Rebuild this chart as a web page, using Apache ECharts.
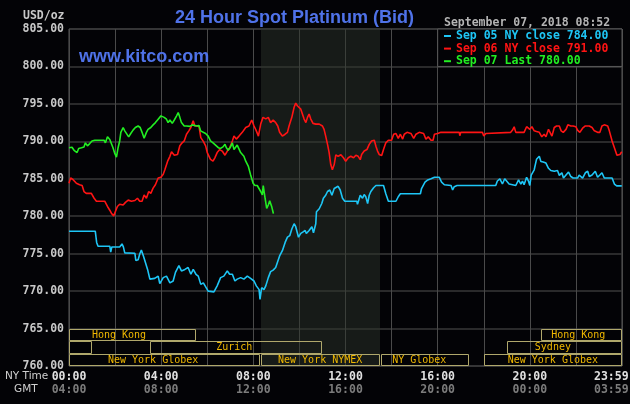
<!DOCTYPE html>
<html>
<head>
<meta charset="utf-8">
<script src="https://cdn.jsdelivr.net/npm/echarts@6/dist/echarts.min.js"></script>
<style>html,body{margin:0;padding:0;background:#030306;}#c{width:630px;height:404px;}</style>
</head>
<body>
<div id="c"></div>
<script>
// ---- data ----
const seriesNames = ['Sep 05 NY close 784.00', 'Sep 06 NY close 791.00', 'Sep 07 Last 780.00'];
const seriesColors = ['#1ec6f6', '#ff1414', '#22ee22'];

const sep05 = [[0,778.0],[1.14,778.0],[1.2,776.5],[1.26,776.0],[1.77,776.0],[1.81,775.2],[1.86,775.9],[2.2,775.9],[2.30,776.3],[2.36,775.9],[2.42,775.1],[2.86,775.05],[2.90,774.1],[3.0,774.2],[3.07,774.95],[3.14,775.5],[3.23,774.7],[3.41,772.9],[3.51,771.6],[3.58,771.8],[3.72,771.7],[3.87,772.0],[3.94,771.0],[4.09,771.8],[4.23,772.0],[4.38,771.1],[4.52,771.35],[4.62,772.5],[4.77,773.4],[4.88,772.7],[5.03,772.9],[5.17,773.15],[5.29,772.25],[5.39,772.9],[5.51,772.25],[5.61,772.0],[5.72,770.9],[5.83,771.1],[5.90,770.9],[6.04,770.0],[6.07,769.9],[6.29,769.9],[6.43,770.7],[6.58,771.8],[6.72,772.0],[6.87,772.7],[6.97,772.25],[7.09,772.25],[7.20,771.35],[7.30,771.6],[7.45,771.8],[7.59,771.6],[7.74,772.0],[7.88,771.7],[8.03,771.35],[8.13,770.7],[8.25,770.2],[8.29,768.9],[8.36,770.45],[8.46,770.2],[8.54,770.7],[8.65,771.8],[8.75,772.6],[8.86,772.8],[8.97,773.15],[9.04,773.8],[9.14,774.7],[9.26,775.4],[9.38,776.5],[9.48,777.2],[9.58,777.4],[9.67,778.3],[9.77,779.0],[9.84,778.6],[9.96,777.2],[10.06,777.7],[10.16,777.9],[10.25,778.1],[10.30,777.7],[10.42,778.1],[10.54,778.6],[10.61,777.8],[10.71,779.0],[10.74,780.6],[10.86,781.0],[10.97,781.7],[11.04,782.4],[11.14,782.8],[11.22,783.3],[11.32,783.5],[11.41,782.8],[11.51,783.7],[11.58,783.5],[11.68,784.0],[11.77,783.5],[11.87,782.4],[11.97,782.0],[12.49,782.0],[12.52,781.6],[12.64,782.8],[12.74,782.4],[12.81,782.9],[12.88,782.6],[12.96,781.7],[13.03,782.8],[13.10,783.3],[13.22,783.8],[13.32,784.1],[13.65,784.1],[13.75,783.0],[13.86,782.0],[14.19,782.0],[14.29,782.6],[14.38,783.0],[15.25,783.0],[15.30,783.7],[15.45,784.55],[15.57,784.85],[15.71,785.0],[15.86,785.2],[16.07,785.2],[16.17,784.55],[16.29,784.2],[16.58,784.1],[16.65,783.5],[16.72,783.95],[16.84,784.1],[18.52,784.1],[18.59,784.7],[18.70,785.0],[18.81,784.3],[18.91,785.0],[18.99,785.0],[19.10,784.3],[19.17,784.1],[19.39,784.1],[19.51,784.85],[19.61,784.3],[19.68,784.7],[19.75,784.2],[19.86,785.2],[19.94,784.7],[20.0,784.1],[20.06,785.5],[20.19,786.2],[20.29,787.6],[20.41,788.0],[20.48,787.3],[20.58,787.25],[20.70,787.1],[20.81,786.4],[20.91,786.1],[21.06,786.0],[21.20,786.1],[21.28,785.45],[21.39,785.8],[21.46,785.1],[21.57,785.5],[21.68,785.9],[21.78,785.3],[21.88,785.1],[22.07,785.1],[22.14,785.5],[22.29,785.1],[22.41,785.8],[22.51,786.0],[22.58,785.3],[22.70,785.5],[22.84,786.0],[22.94,785.2],[23.04,785.5],[23.13,785.8],[23.23,785.1],[23.57,785.1],[23.67,784.3],[23.77,784.05],[23.99,784.05]];

const sep06 = [[0,784.4],[0.07,785.1],[0.17,784.9],[0.25,785.1],[0.32,784.4],[0.46,784.2],[0.57,784.1],[0.65,783.3],[0.75,783.05],[0.97,783.05],[1.09,782.4],[1.19,782.0],[1.55,782.0],[1.67,781.3],[1.77,780.8],[1.84,780.4],[1.94,780.05],[2.01,780.6],[2.10,781.3],[2.20,781.6],[2.28,781.85],[2.35,781.5],[2.45,781.85],[2.57,782.15],[2.71,782.0],[2.86,782.1],[2.97,782.4],[3.07,782.0],[3.17,782.0],[3.26,782.85],[3.36,782.4],[3.46,783.3],[3.55,783.05],[3.65,783.75],[3.75,784.2],[3.87,785.1],[3.99,785.2],[4.09,785.6],[4.16,786.2],[4.28,787.35],[4.38,788.0],[4.45,788.6],[4.57,788.15],[4.71,788.25],[4.81,789.4],[4.91,789.8],[5.0,790.05],[5.10,790.95],[5.20,791.4],[5.29,791.85],[5.39,792.75],[5.46,792.05],[5.54,791.85],[5.64,792.05],[5.72,790.5],[5.83,790.0],[5.93,789.4],[6.0,788.5],[6.14,787.6],[6.25,787.35],[6.33,787.8],[6.43,788.5],[6.54,788.9],[6.65,788.7],[6.77,788.15],[6.87,788.7],[6.97,789.1],[7.09,790.05],[7.16,790.7],[7.26,790.3],[7.38,790.7],[7.52,791.2],[7.67,791.85],[7.81,792.05],[7.93,792.85],[8.03,792.05],[8.13,791.4],[8.22,790.7],[8.32,792.3],[8.42,793.2],[8.54,793.0],[8.65,793.2],[8.75,792.5],[8.86,792.85],[8.97,792.5],[9.06,792.05],[9.14,791.2],[9.26,790.7],[9.38,790.95],[9.48,791.2],[9.55,792.05],[9.67,793.2],[9.77,794.55],[9.84,795.1],[9.91,794.75],[9.99,795.0],[10.06,794.3],[10.13,793.65],[10.20,793.0],[10.28,792.5],[10.35,793.2],[10.42,793.65],[10.49,793.0],[10.59,792.4],[10.71,792.3],[10.86,792.3],[11.0,792.05],[11.07,791.6],[11.14,790.7],[11.22,789.6],[11.29,788.5],[11.36,786.9],[11.43,786.2],[11.51,786.9],[11.58,788.2],[11.68,788.0],[11.80,788.2],[11.91,787.8],[12.01,787.35],[12.12,787.8],[12.23,788.0],[12.35,787.8],[12.45,788.15],[12.55,788.0],[12.64,787.55],[12.70,788.25],[12.81,788.7],[12.93,788.9],[13.03,789.6],[13.13,790.05],[13.25,790.15],[13.32,789.35],[13.39,788.7],[13.46,788.25],[13.57,788.1],[13.65,788.9],[13.75,789.8],[13.86,790.15],[14.0,790.15],[14.09,790.95],[14.19,791.05],[14.29,790.4],[14.38,790.95],[14.48,790.3],[14.55,790.95],[14.67,791.2],[14.84,791.05],[14.96,790.4],[15.06,790.95],[15.20,791.2],[15.39,791.05],[15.49,790.3],[15.59,790.6],[15.71,790.15],[15.80,790.15],[15.86,790.95],[16.0,791.05],[16.14,791.2],[16.94,791.2],[16.96,790.75],[17.0,791.2],[17.94,791.2],[18.0,790.7],[18.09,791.05],[18.16,791.2],[19.17,791.2],[19.25,791.5],[19.32,791.95],[19.39,791.2],[19.75,791.2],[19.86,791.95],[19.94,792.05],[20.0,791.6],[20.09,791.95],[20.19,791.4],[20.29,791.3],[20.41,791.2],[20.52,790.6],[20.62,790.95],[20.70,790.6],[20.81,791.6],[20.87,791.4],[20.96,790.7],[21.06,791.85],[21.16,792.05],[21.28,792.05],[21.36,791.4],[21.45,791.2],[21.57,791.6],[21.65,792.2],[21.78,792.05],[21.88,792.05],[22.0,791.95],[22.07,791.5],[22.17,791.2],[22.29,791.75],[22.41,792.05],[22.58,792.05],[22.70,791.85],[22.80,791.4],[22.94,791.2],[23.04,791.2],[23.13,792.05],[23.23,792.2],[23.38,792.05],[23.45,791.4],[23.57,790.05],[23.67,789.15],[23.78,788.15],[23.86,788.35],[23.91,788.25],[23.99,788.6]];

const sep07 = [[0,789.15],[0.07,788.9],[0.13,789.2],[0.22,788.8],[0.28,789.05],[0.35,788.5],[0.42,789.05],[0.54,789.15],[0.65,789.25],[0.71,789.8],[0.80,789.4],[0.90,789.7],[1.0,790.05],[1.12,790.15],[1.52,790.15],[1.58,789.8],[1.67,790.6],[1.77,790.25],[1.84,790.05],[1.91,789.15],[1.99,788.35],[2.06,787.9],[2.13,789.15],[2.20,790.05],[2.25,791.2],[2.35,791.85],[2.42,791.4],[2.49,791.6],[2.59,790.6],[2.68,791.05],[2.78,791.5],[2.88,791.85],[3.0,792.05],[3.09,791.85],[3.17,791.2],[3.26,790.4],[3.36,791.2],[3.43,791.6],[3.55,791.85],[3.65,792.2],[3.75,792.5],[3.87,792.95],[3.99,793.4],[4.04,793.65],[4.13,793.2],[4.23,792.95],[4.30,792.5],[4.38,792.85],[4.48,792.4],[4.57,792.85],[4.67,793.4],[4.74,793.85],[4.81,793.2],[4.88,792.5],[5.0,792.05],[5.10,792.05],[5.25,792.0],[5.35,792.2],[5.43,792.4],[5.54,792.05],[5.64,792.1],[5.71,791.4],[5.78,791.2],[5.93,791.05],[6.04,790.7],[6.14,790.05],[6.25,789.8],[6.36,789.5],[6.48,789.15],[6.58,789.05],[6.68,789.25],[6.77,789.6],[6.83,789.15],[6.91,788.8],[7.01,789.25],[7.09,789.8],[7.16,788.9],[7.23,789.15],[7.30,789.5],[7.38,789.25],[7.45,788.5],[7.52,788.25],[7.59,788.0],[7.67,787.35],[7.78,786.7],[7.88,785.55],[7.99,784.4],[8.07,784.1],[8.17,784.1],[8.25,783.95],[8.32,783.3],[8.39,782.85],[8.43,784.1],[8.51,782.4],[8.58,781.05],[8.65,781.5],[8.71,782.05],[8.80,781.25],[8.86,780.5],[8.87,780.35]];

// axis ticks (hours, NY time) and their labels
const labelHours = [0, 4, 8, 12, 16, 20, 24];
const nyTickLabels = ['00:00', '04:00', '08:00', '12:00', '16:00', '20:00', '23:59'];
const gmtTickLabels = ['04:00', '08:00', '12:00', '16:00', '20:00', '00:00', '03:59'];

// NYMEX shaded session (hours)
const nymexSession = [8.33, 13.5];

// market sessions bar (hours), row 0 = top
const sessionNames = ['Hong Kong', 'Hong Kong', '', 'Zurich', 'Sydney', 'New York Globex', 'New York NYMEX', 'NY Globex', 'New York Globex'];
const sessionStart = [0, 20.5, 0, 3.5, 19.0, 0, 8.35, 13.55, 18.0];
const sessionEnd   = [5.5, 24, 1.0, 11.0, 24, 8.28, 13.48, 17.35, 24];
const sessionRow   = [0, 0, 1, 1, 1, 2, 2, 2, 2];
const sessionLabelAt = [2.17, 22.1, -1, 7.17, 21.0, 3.65, 10.9, 15.2, 21.0];

// ---- chart ----
const MONO = '"DejaVu Sans Mono", "Liberation Mono", monospace';
const chart = echarts.init(document.getElementById('c'), null, {renderer: 'canvas'});

const Y_MIN = 760, Y_MAX = 805;
const rowH = 5 / 3;

const sessionData = sessionStart.map((s, i) => [s, sessionEnd[i], 765 - sessionRow[i] * rowH, sessionLabelAt[i]]);

const option = {
  backgroundColor: '#030306',
  animation: false,
  title: [
    {text: '24 Hour Spot Platinum (Bid)', left: 175, top: 8, padding: 0,
     textStyle: {color: '#4f72e8', fontSize: 18, fontWeight: 'bold', fontFamily: '"Liberation Sans", Arial, sans-serif', lineHeight: 20}},
    {text: 'www.kitco.com', left: 79, top: 47, padding: 0,
     textStyle: {color: '#4f72e8', fontSize: 18, fontWeight: 'bold', fontFamily: '"Liberation Sans", Arial, sans-serif', lineHeight: 20}}
  ],
  grid: {left: 69, right: 8, top: 29, bottom: 38, show: true, borderColor: '#5a5a5a', borderWidth: 1,
         backgroundColor: 'transparent', containLabel: false, outerBoundsMode: 'none'},
  legend: {
    orient: 'vertical', left: 444, top: 30, padding: 0, itemGap: 0.6,
    icon: 'rect', itemWidth: 7, itemHeight: 2, selectedMode: false,
    textStyle: {fontFamily: MONO, fontSize: 11.5, fontWeight: 'bold', lineHeight: 12},
    data: seriesNames.map((n, i) => ({name: n, textStyle: {color: seriesColors[i]}}))
  },
  xAxis: {
    type: 'value', min: 0, max: 24, interval: 2,
    axisLine: {show: false}, axisTick: {show: false},
    splitLine: {show: true, lineStyle: {color: '#4a4a4a', width: 1}},
    axisLabel: {
      showMaxLabel: true, showMinLabel: true, margin: 4, hideOverlap: false,
      formatter: function (v) {
        const i = labelHours.indexOf(v);
        if (i < 0) return '';
        if (v === 24) return '{c|' + nyTickLabels[i] + '}\n{d|' + gmtTickLabels[i] + '}';
        return '{a|' + nyTickLabels[i] + '}\n{b|' + gmtTickLabels[i] + '}';
      },
      rich: {
        a: {fontFamily: MONO, fontSize: 11.5, fontWeight: 'bold', color: '#e0e0e0', lineHeight: 13.5},
        b: {fontFamily: MONO, fontSize: 11.5, fontWeight: 'bold', color: '#7c7c7c', lineHeight: 13.5},
        c: {fontFamily: MONO, fontSize: 11.5, fontWeight: 'bold', color: '#e0e0e0', lineHeight: 13.5, width: 56, align: 'left'},
        d: {fontFamily: MONO, fontSize: 11.5, fontWeight: 'bold', color: '#7c7c7c', lineHeight: 13.5, width: 56, align: 'left'}
      }
    }
  },
  yAxis: {
    type: 'value', min: Y_MIN, max: Y_MAX, interval: 5,
    axisLine: {show: false}, axisTick: {show: false},
    splitLine: {show: true, lineStyle: {color: '#383838', width: 1.5}},
    axisLabel: {
      margin: 5, color: '#c8c8c8', fontFamily: MONO, fontSize: 11.5, fontWeight: 'bold',
      formatter: v => v.toFixed(2)
    }
  },
  graphic: [
    {type: 'text', left: 23, top: 10, style: {text: 'USD/oz', fill: '#c8c8c8', font: 'bold 11.5px ' + MONO}},
    {type: 'text', left: 444, top: 17, style: {text: 'September 07, 2018 08:52', fill: '#b4b4b4', font: 'bold 11.5px ' + MONO}},
    {type: 'text', left: 5, top: 371, style: {text: 'NY Time', fill: '#d0d0d0', font: '10.5px "DejaVu Sans", sans-serif'}},
    {type: 'text', left: 14, top: 384, style: {text: 'GMT', fill: '#d0d0d0', font: '10.5px "DejaVu Sans", sans-serif'}}
  ],
  series: [
    {
      type: 'custom', name: 'sessions', silent: true, clip: false, z: 3,
      data: sessionData,
      encode: {x: [0, 1], y: 2},
      markArea: {
        silent: true,
        data: [
          [{xAxis: nymexSession[0], yAxis: Y_MIN, itemStyle: {color: 'rgba(44,52,42,0.5)', borderWidth: 0}}, {xAxis: nymexSession[1], yAxis: Y_MAX}]
        ]
      },
      renderItem: function (params, api) {
        const i = params.dataIndex;
        const s = api.value(0), e = api.value(1), top = api.value(2), la = api.value(3);
        const p1 = api.coord([s, top]);
        const p2 = api.coord([e, top - rowH]);
        const x1 = Math.round(p1[0]), y1 = Math.round(p1[1]);
        const x2 = Math.round(p2[0]), y2 = Math.round(p2[1]);
        const children = [{
          type: 'rect',
          shape: {x: x1 + 0.5, y: y1 + 0.5, width: x2 - x1 - 1, height: y2 - y1 - 1},
          style: {fill: 'none', stroke: '#b0a86c', lineWidth: 1}
        }];
        if (sessionNames[i] && la >= 0) {
          const pt = api.coord([la, top - rowH / 2]);
          children.push({
            type: 'text',
            style: {text: sessionNames[i], x: pt[0], y: pt[1] + 0.5, align: 'center', verticalAlign: 'middle',
                    textAlign: 'center', textVerticalAlign: 'middle', fill: '#f0b800', font: '10px ' + MONO}
          });
        }
        return {type: 'group', children: children};
      }
    },
    {
      type: 'line', name: seriesNames[0], data: sep05, symbol: 'none', z: 4,
      lineStyle: {color: seriesColors[0], width: 1.6}, itemStyle: {color: seriesColors[0]},
      markArea: {
        silent: true,
        data: [
          [{xAxis: 16, yAxis: 800, itemStyle: {color: '#030306', borderColor: '#5a5a5a', borderWidth: 1}}, {xAxis: 24, yAxis: 805}]
        ]
      }
    },
    {
      type: 'line', name: seriesNames[1], data: sep06, symbol: 'none', z: 4,
      lineStyle: {color: seriesColors[1], width: 1.6}, itemStyle: {color: seriesColors[1]}
    },
    {
      type: 'line', name: seriesNames[2], data: sep07, symbol: 'none', z: 4,
      lineStyle: {color: seriesColors[2], width: 1.6}, itemStyle: {color: seriesColors[2]}
    }
  ]
};
chart.setOption(option);
</script>
</body>
</html>
